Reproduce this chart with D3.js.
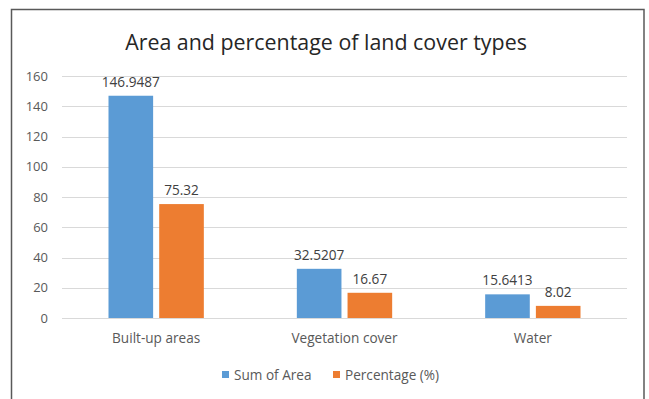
<!DOCTYPE html>
<html>
<head>
<meta charset="utf-8">
<script src="https://cdn.jsdelivr.net/npm/d3@7"></script>
<style>
  body { margin: 0; background: #fff; }
  text { font-family: "Open Sans", Lato, sans-serif; }
</style>
</head>
<body>
<svg id="chart"></svg>
<script>
// chart data
const categories = ["Built-up areas", "Vegetation cover", "Water"];
const seriesNames = ["Sum of Area", "Percentage (%)"];
const sumOfArea = [146.9487, 32.5207, 15.6413];
const percentage = [75.32, 16.67, 8.02];
const yTicks = [0, 20, 40, 60, 80, 100, 120, 140, 160];

const width = 649, height = 399;
const colors = ["#5B9BD5", "#ED7D31"];
const plot = { left: 62, right: 627, top: 76, bottom: 318 };

const svg = d3.select("#chart")
    .attr("width", width)
    .attr("height", height);

// outer frame (bottom edge is cut off in the picture)
svg.append("path")
    .attr("d", `M11.5,${height} V9.5 H644 V${height}`)
    .attr("fill", "none")
    .attr("stroke", "#595959")
    .attr("stroke-width", 1.5);

svg.append("text")
    .attr("x", 326)
    .attr("y", 50)
    .attr("text-anchor", "middle")
    .attr("font-size", "21.4px")
    .attr("fill", "#262626")
    .text("Area and percentage of land cover types");

const y = d3.scaleLinear()
    .domain([0, 160])
    .range([plot.bottom, plot.top]);

const x0 = d3.scaleBand()
    .domain(categories)
    .range([plot.left, plot.right])
    .paddingInner(0)
    .paddingOuter(0);

const x1 = d3.scaleBand()
    .domain(seriesNames)
    .range([46.5, x0.bandwidth() - 46.5])
    .paddingInner(0.12);

// gridlines
svg.append("g").selectAll("line")
    .data(yTicks)
    .enter()
    .append("line")
    .attr("x1", plot.left)
    .attr("x2", plot.right)
    .attr("y1", d => Math.round(y(d)) + 0.5)
    .attr("y2", d => Math.round(y(d)) + 0.5)
    .attr("stroke", "#D9D9D9")
    .attr("stroke-width", 1);

// y tick labels
svg.append("g").selectAll("text")
    .data(yTicks)
    .enter()
    .append("text")
    .attr("x", 48)
    .attr("y", d => y(d))
    .attr("dy", "0.35em")
    .attr("text-anchor", "end")
    .attr("font-size", "13px")
    .attr("fill", "#595959")
    .text(d => d);

const rows = categories.map((c, i) => ({
    category: c,
    values: [sumOfArea[i], percentage[i]]
}));

const groups = svg.append("g").selectAll("g")
    .data(rows)
    .enter()
    .append("g")
    .attr("transform", d => `translate(${x0(d.category)},0)`);

groups.selectAll("rect")
    .data(d => d.values.map((v, j) => ({ name: seriesNames[j], value: v, j: j })))
    .enter()
    .append("rect")
    .attr("x", d => x1(d.name))
    .attr("y", d => y(d.value))
    .attr("width", x1.bandwidth())
    .attr("height", d => plot.bottom - y(d.value))
    .attr("fill", d => colors[d.j]);

// value labels
groups.selectAll("text")
    .data(d => d.values.map((v, j) => ({ name: seriesNames[j], value: v })))
    .enter()
    .append("text")
    .attr("x", d => x1(d.name) + x1.bandwidth() / 2)
    .attr("y", d => y(d.value) - 9)
    .attr("text-anchor", "middle")
    .attr("font-size", "13.6px")
    .attr("fill", "#404040")
    .text(d => d.value);

// category labels
svg.append("g").selectAll("text")
    .data(categories)
    .enter()
    .append("text")
    .attr("x", d => x0(d) + x0.bandwidth() / 2)
    .attr("y", 338)
    .attr("dy", "0.35em")
    .attr("text-anchor", "middle")
    .attr("font-size", "13.6px")
    .attr("fill", "#595959")
    .text(d => d);

// legend
const legendX = [222, 333];
seriesNames.forEach((name, i) => {
    svg.append("rect")
        .attr("x", legendX[i])
        .attr("y", 371)
        .attr("width", 7)
        .attr("height", 7)
        .attr("fill", colors[i]);
    svg.append("text")
        .attr("x", legendX[i] + 12)
        .attr("y", 375)
        .attr("dy", "0.35em")
        .attr("font-size", "13.6px")
        .attr("fill", "#595959")
        .text(name);
});
</script>
</body>
</html>
